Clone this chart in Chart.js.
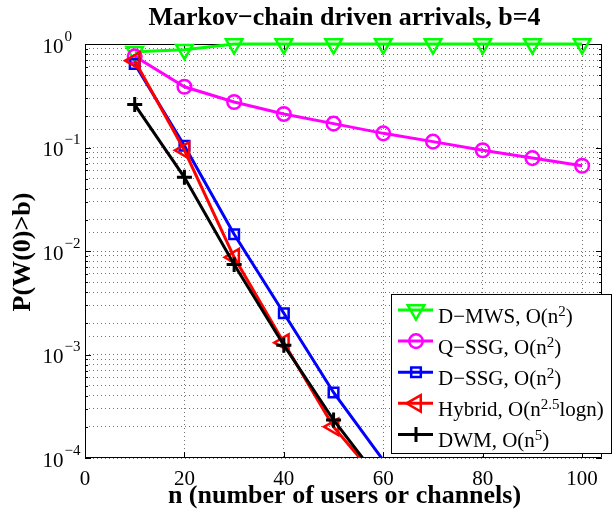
<!DOCTYPE html>
<html>
<head>
<meta charset="utf-8">
<script src="https://cdn.jsdelivr.net/npm/chart.js@4"></script>
<style>
  html, body { margin: 0; padding: 0; background: #ffffff; }
  #wrap { width: 614px; height: 512px; position: relative; }
</style>
</head>
<body>
<div id="wrap"><canvas id="c"></canvas></div>
<script>
// ---- data ----
const nValues = [10, 20, 30, 40, 50, 60, 70, 80, 90, 100];
const dmwsValues = [0.84, 0.88, 1, 1, 1, 1, 1, 1, 1, 1];
const qssgValues = [0.76, 0.386, 0.275, 0.211, 0.170, 0.137, 0.114, 0.094, 0.079, 0.0666];
const dssgValues = [0.64, 0.104, 0.0145, 0.0025, 0.00043, 0.000095];
const hybridValues = [0.69, 0.094, 0.0087, 0.0013, 0.0002, 0.000054];
const dwmValues = [0.26, 0.0515, 0.0074, 0.00123, 0.000233, 0.000055];
const seriesLabels = ['D−MWS, O(n^{2})', 'Q−SSG, O(n^{2})', 'D−SSG, O(n^{2})', 'Hybrid, O(n^{2.5}logn)', 'DWM, O(n^{5})'];
const xTickValues = [0, 20, 40, 60, 80, 100];
const xTickLabels = ['0', '20', '40', '60', '80', '100'];
const yTickExponents = [0, -1, -2, -3, -4];
const yTickExpLabels = ['0', '−1', '−2', '−3', '−4'];
const titleText = 'Markov−chain driven arrivals, b=4';
const xTitleText = 'n (number of users or channels)';
const yTitleText = 'P(W(0)>b)';

const X_MIN = 0, X_MAX = 104, Y_MIN = 1e-4, Y_MAX = 1;
const SERIF = '"Liberation Serif", "Times New Roman", Times, serif';

function pts(vals) { return vals.map((v, i) => ({ x: nValues[i], y: v })); }
function plain(s) { return s.replace(/\^\{2\}/g, '²').replace(/\^\{5\}/g, '⁵').replace(/\^\{([^}]*)\}/g, '^$1'); }

const styles = [
  { color: '#00ff00', pointStyle: 'triangle', rotation: 180, radius: 9.5 },
  { color: '#ff00ff', pointStyle: 'circle', rotation: 0, radius: 6.8 },
  { color: '#0000ff', pointStyle: 'rect', rotation: 0, radius: 6.8 },
  { color: '#ff0000', pointStyle: 'triangle', rotation: 270, radius: 9.5 },
  { color: '#000000', pointStyle: 'cross', rotation: 0, radius: 7.5 }
];
const seriesData = [dmwsValues, qssgValues, dssgValues, hybridValues, dwmValues];

const datasets = seriesData.map((vals, i) => ({
  label: plain(seriesLabels[i]),
  data: pts(vals),
  borderColor: styles[i].color,
  backgroundColor: styles[i].color,
  borderWidth: 3,
  pointStyle: styles[i].pointStyle,
  pointRotation: styles[i].rotation,
  pointRadius: (ctx) => (ctx.raw && ctx.raw.y < Y_MIN ? 0 : styles[i].radius),
  pointHoverRadius: styles[i].radius,
  pointBorderColor: styles[i].color,
  pointBackgroundColor: 'rgba(0,0,0,0)',
  pointBorderWidth: i === 4 ? 3 : 2.5,
  tension: 0,
  fill: false,
  order: 5 - i,
  clip: i < 2 ? false : 0
}));

function drawMarker(ctx, st, x, y, lw) {
  ctx.save();
  ctx.strokeStyle = st.color;
  ctx.lineWidth = lw;
  ctx.beginPath();
  const r = st.radius;
  if (st.pointStyle === 'triangle') {
    let rad = st.rotation * Math.PI / 180;
    ctx.moveTo(x + Math.sin(rad) * r, y - Math.cos(rad) * r);
    rad += 2 * Math.PI / 3;
    ctx.lineTo(x + Math.sin(rad) * r, y - Math.cos(rad) * r);
    rad += 2 * Math.PI / 3;
    ctx.lineTo(x + Math.sin(rad) * r, y - Math.cos(rad) * r);
    ctx.closePath();
  } else if (st.pointStyle === 'circle') {
    ctx.arc(x, y, r, 0, Math.PI * 2);
  } else if (st.pointStyle === 'rect') {
    const s = Math.SQRT1_2 * r;
    ctx.rect(x - s, y - s, 2 * s, 2 * s);
  } else if (st.pointStyle === 'cross') {
    ctx.moveTo(x, y - r); ctx.lineTo(x, y + r);
    ctx.moveTo(x - r, y); ctx.lineTo(x + r, y);
  }
  ctx.stroke();
  ctx.restore();
}

function drawRich(ctx, str, x, y, mainFont, supFont, raise) {
  const parts = str.split(/(\^\{[^}]*\})/);
  let cx = x;
  for (const p of parts) {
    if (!p) continue;
    if (p.startsWith('^{')) {
      const t = p.slice(2, -1);
      ctx.font = supFont;
      ctx.fillText(t, cx, y - raise);
      cx += ctx.measureText(t).width;
    } else {
      ctx.font = mainFont;
      ctx.fillText(p, cx, y);
      cx += ctx.measureText(p).width;
    }
  }
}

const framePlugin = {
  id: 'frame',
  beforeDatasetsDraw(chart) {
    const { ctx, chartArea: a, scales } = chart;
    const ys = scales.y, xs = scales.x;
    ctx.save();
    ctx.strokeStyle = '#000';
    ctx.lineWidth = 1;
    ctx.beginPath();
    ctx.rect(Math.round(a.left) + 0.5, Math.round(a.top) + 0.5, Math.round(a.right - a.left) - 1, Math.round(a.bottom - a.top) - 1);
    ctx.stroke();
    // y ticks (major + minor), inward on both sides
    ctx.beginPath();
    for (let e = -4; e <= 0; e++) {
      for (let m = 1; m <= 9; m++) {
        const v = m * Math.pow(10, e);
        if (v > Y_MAX * 1.0001) break;
        const py = Math.round(ys.getPixelForValue(v)) + 0.5;
        const len = m === 1 ? 6 : 3;
        ctx.moveTo(a.left, py); ctx.lineTo(a.left + len, py);
        ctx.moveTo(a.right, py); ctx.lineTo(a.right - len, py);
      }
    }
    for (const v of xTickValues) {
      const px = Math.round(xs.getPixelForValue(v)) + 0.5;
      ctx.moveTo(px, a.bottom); ctx.lineTo(px, a.bottom - 6);
      ctx.moveTo(px, a.top); ctx.lineTo(px, a.top + 6);
    }
    ctx.stroke();
    ctx.restore();
  },
  afterDraw(chart) {
    const { ctx, chartArea: a, scales } = chart;
    const ys = scales.y, xs = scales.x;
    ctx.save();
    ctx.fillStyle = '#000';
    // x tick labels
    ctx.font = '21px ' + SERIF;
    ctx.textAlign = 'center';
    ctx.textBaseline = 'alphabetic';
    xTickValues.forEach((v, i) => {
      ctx.fillText(xTickLabels[i], xs.getPixelForValue(v), 485);
    });
    // y tick labels 10^e
    yTickExponents.forEach((e, i) => {
      const py = ys.getPixelForValue(Math.pow(10, e));
      ctx.font = '21px ' + SERIF;
      ctx.textAlign = 'right';
      ctx.fillText('10', 63.5, py + 8.5);
      ctx.font = '15px ' + SERIF;
      ctx.textAlign = 'left';
      ctx.fillText(yTickExpLabels[i], 64.5, py - 3.5);
    });
    // title
    ctx.font = 'bold 26px ' + SERIF;
    ctx.textAlign = 'center';
    ctx.fillText(titleText, (a.left + a.right) / 2 + 1, 25);
    // x title
    ctx.fillText(xTitleText, (a.left + a.right) / 2 + 1, 503);
    // y title
    ctx.save();
    ctx.translate(30, (a.top + a.bottom) / 2 + 1);
    ctx.rotate(-Math.PI / 2);
    ctx.fillText(yTitleText, 0, 0);
    ctx.restore();
    // legend
    const lx = 391.5, ly = 294.5, lw = 220, lh = 159;
    ctx.fillStyle = '#fff';
    ctx.fillRect(lx, ly, lw, lh);
    ctx.strokeStyle = '#000';
    ctx.lineWidth = 1;
    ctx.strokeRect(lx, ly, lw, lh);
    ctx.textAlign = 'left';
    seriesLabels.forEach((lab, i) => {
      const rowY = 310 + i * 31.1;
      const st = styles[i];
      ctx.strokeStyle = st.color;
      ctx.lineWidth = 3;
      ctx.beginPath();
      ctx.moveTo(398, rowY); ctx.lineTo(433, rowY);
      ctx.stroke();
      drawMarker(ctx, st, 416, rowY, i === 4 ? 3 : 2.5);
      ctx.fillStyle = '#000';
      drawRich(ctx, lab, 438, rowY + 12.5, '21px ' + SERIF, '15px ' + SERIF, 7);
    });
    ctx.restore();
  }
};

new Chart(document.getElementById('c'), {
  type: 'line',
  data: { datasets },
  options: {
    responsive: true,
    maintainAspectRatio: false,
    animation: false,
    events: [],
    layout: { padding: { left: 85, top: 44, right: 2, bottom: 54 } },
    plugins: { legend: { display: false }, title: { display: false }, tooltip: { enabled: false } },
    scales: {
      x: {
        type: 'linear', min: X_MIN, max: X_MAX,
        ticks: { display: false, stepSize: 20, includeBounds: false },
        grid: { drawTicks: false, color: 'rgba(0,0,0,0.55)', lineWidth: 1 },
        border: { display: false, dash: [1, 3] }
      },
      y: {
        type: 'logarithmic', min: Y_MIN, max: Y_MAX,
        ticks: { display: false },
        grid: { drawTicks: false, color: 'rgba(0,0,0,0.55)', lineWidth: 1 },
        border: { display: false, dash: [1, 3] }
      }
    }
  },
  plugins: [framePlugin]
});
</script>
</body>
</html>
